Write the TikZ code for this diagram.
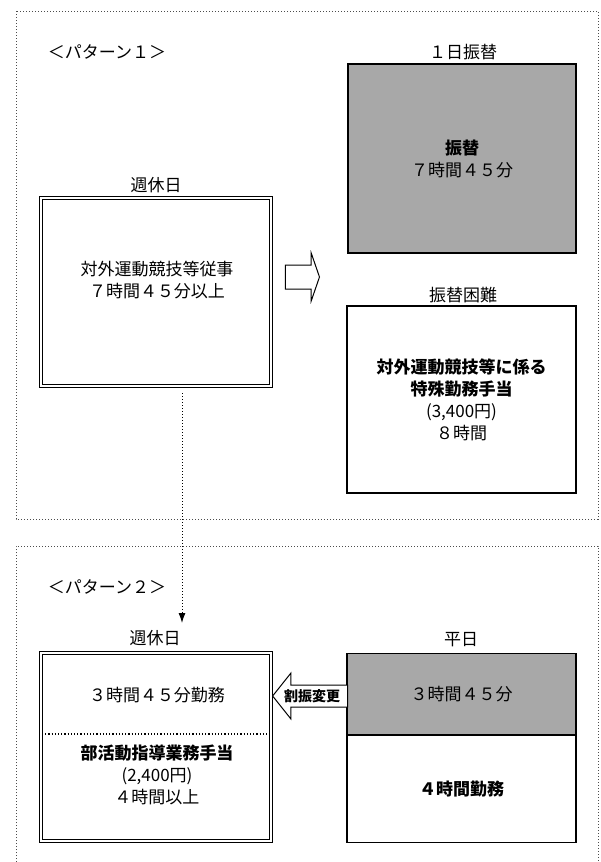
\documentclass[tikz,border=0pt]{standalone}
\usepackage{fontspec}
\setmainfont{Noto Sans CJK JP}
\usetikzlibrary{shapes.arrows,arrows.meta}

\begin{document}
\begin{tikzpicture}[x=0.5pt, y=-0.5pt,
  every node/.style = {align=center, font=\fontsize{8.5}{11}\selectfont},
  frame/.style = {densely dotted, line width=0.5pt, black!70},
  daybox/.style = {draw, double, double distance=0.9pt, line width=0.35pt, inner sep=0pt},
  plainbox/.style = {draw, line width=0.6pt, inner sep=0pt},
  shade/.style = {fill=black!34},
  blockarrow/.style = {shape=single arrow, draw, line width=0.5pt, fill=white,
    inner xsep=0pt, single arrow head indent=0pt, single arrow head extend=6pt}]
  \useasboundingbox (0,0) rectangle (600,862);

  % frames
  \draw[frame] (16,11) rectangle (598,519);
  \draw[frame] (16,862) -- (16,546) -- (598,546) -- (598,862);

  % pattern 1
  \node (P1) at (107,52) {＜パターン１＞};
  \node (FKlab) at (463,52) {１日振替};
  \node[plainbox, shade, minimum width=114pt, minimum height=94.5pt] (FK) at (462,158.5)
    {\textbf{振替}\\７時間４５分};
  \node (SK1lab) at (156,185) {週休日};
  \node[daybox, minimum width=115pt, minimum height=94pt] (SK1) at (156,292) {};
  \node (SK1txt) at (157,280) {対外運動競技等従事\\７時間４５分以上};
  \node[blockarrow, inner ysep=5.75pt, minimum height=17pt,
    single arrow tip angle=142, anchor=tip] (SH) at (320,277) {};
  \node (FKKlab) at (463,295) {振替困難};
  \node[plainbox, minimum width=114.5pt, minimum height=93.5pt] (FKK) at (461.5,399.5)
    {\textbf{対外運動競技等に係る}\\\textbf{特殊勤務手当}\\(3,400円)\\８時間};

  \coordinate (dropS) at (182,393);
  \coordinate (dropE) at (182,623);
  \draw[densely dotted, line width=0.5pt, -{Latex[length=5pt,width=3.5pt]}] (dropS) -- (dropE);

  % pattern 2
  \node (P2) at (107,587) {＜パターン２＞};
  \node (SK2lab) at (155,638) {週休日};
  \node[daybox, minimum width=115pt, minimum height=94pt] (SK2) at (156,747) {};
  \coordinate (divL) at (42,734);
  \coordinate (divR) at (270,734);
  \draw[densely dotted, line width=0.6pt] (divL) -- (divR);
  \node (SK2top) at (157,695) {３時間４５分勤務};
  \node (SK2bot) at (157,775) {\textbf{部活動指導業務手当}\\(2,400円)\\４時間以上};

  \node (HJlab) at (461,640) {平日};
  \node[plainbox, shade, minimum width=114.5pt, minimum height=40.5pt, anchor=north] (HJtop)
    at (461.5,653) {３時間４５分};
  \node[plainbox, minimum width=114.5pt, minimum height=53.5pt, anchor=north] (HJbot)
    at (HJtop.south) {\textbf{４時間勤務}};

  \node[blockarrow, shape border rotate=180, inner ysep=5.25pt, minimum height=37.5pt,
    single arrow tip angle=103, anchor=tip] (WF) at (272,696) {};
  \node[font=\bfseries\fontsize{7}{8}\selectfont] (WFtxt) at (312,696) {割振変更};
\end{tikzpicture}
\end{document}
